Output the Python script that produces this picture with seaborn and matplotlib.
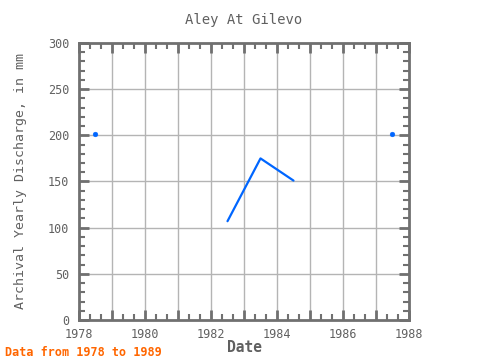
import numpy as np
import pandas as pd
import matplotlib
matplotlib.use("Agg")
import matplotlib.pyplot as plt
import seaborn as sns
from matplotlib.ticker import MultipleLocator

years = [1978.5, 1979.5, 1980.5, 1981.5, 1982.5, 1983.5, 1984.5, 1985.5, 1986.5, 1987.5]
discharge = [201, np.nan, np.nan, np.nan, 107, 175, 151, np.nan, np.nan, 201]
x_ticks = [1978, 1980, 1982, 1984, 1986, 1988]
y_ticks = [0, 50, 100, 150, 200, 250, 300]

df = pd.DataFrame({"Date": years, "Discharge": discharge})

sns.set_style("white")
plt.rcParams['font.family'] = ['DejaVu Sans Mono', 'DejaVu Sans']

fig = plt.figure(figsize=(4.8, 3.6), dpi=100)
ax = fig.add_axes([79/480, 1 - 320/360, 330/480, 277/360])
ax.set_axisbelow(False)

gray = "#707070"
blue = "#0066ff"

ax.plot(df["Date"], df["Discharge"], color=blue, lw=1.6, zorder=3)
vals = df["Discharge"].values
iso = []
for i, v in enumerate(vals):
    if np.isnan(v):
        continue
    prev_nan = i == 0 or np.isnan(vals[i-1])
    next_nan = i == len(vals)-1 or np.isnan(vals[i+1])
    if prev_nan and next_nan:
        iso.append(i)
sns.scatterplot(data=df.iloc[iso], x="Date", y="Discharge", color=blue, s=12,
                edgecolor=blue, ax=ax, zorder=4, legend=False)

ax.set_xlim(1978, 1988)
ax.set_ylim(0, 300)
ax.xaxis.set_minor_locator(MultipleLocator(1/3))
ax.yaxis.set_minor_locator(MultipleLocator(10))

for xv in range(1979, 1988):
    ax.axvline(xv, color="#b4b4b4", lw=1, zorder=1)
for yv in y_ticks[1:-1]:
    ax.axhline(yv, color="#b4b4b4", lw=1, zorder=1)

ax.set_yticks(y_ticks)
ax.set_xticks(list(range(1978, 1989)))
ax.set_xticklabels([str(y) if y in x_ticks else "" for y in range(1978, 1989)])

ax.tick_params(axis="both", which="major", direction="in", length=7, width=2,
               color=gray, top=True, right=True, bottom=True, left=True,
               labelsize=8.5, labelcolor="#606060")
ax.tick_params(axis="x", which="major", pad=6)
ax.tick_params(axis="y", which="major", pad=7)
ax.tick_params(axis="both", which="minor", direction="in", length=4, width=1.5,
               color=gray, top=True, right=True, bottom=True, left=True)

for s in ax.spines.values():
    s.set_color(gray)
    s.set_linewidth(2)

ax.set_xlabel("Date", fontsize=10.5, color="#606060", fontweight="bold", labelpad=-1)
ax.set_ylabel("Archival Yearly Discharge, in mm", fontsize=9.5, color="#606060", labelpad=15)
ax.set_title("Aley At Gilevo", fontsize=10, color="#606060", pad=14)

fig.text(5/480, 1 - 352/360, "Data from 1978 to 1989", color="#ff6600", fontsize=8.5,
         fontweight="bold", va="center", ha="left")

fig.savefig("out.png", dpi=100)
